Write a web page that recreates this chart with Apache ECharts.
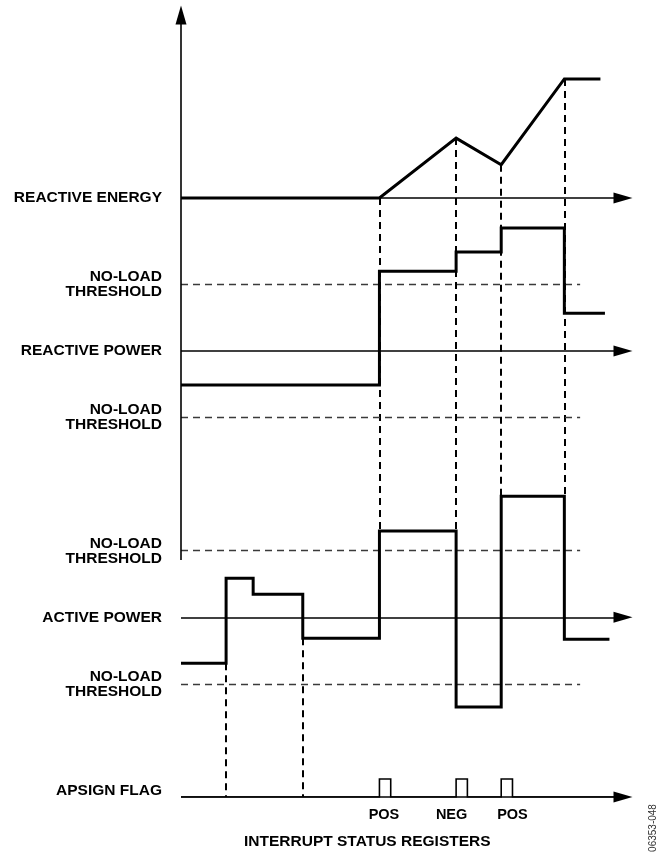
<!DOCTYPE html>
<html>
<head>
<meta charset="utf-8">
<title>Reactive energy, reactive power, active power and APSIGN flag</title>
<script src="https://cdn.jsdelivr.net/npm/echarts@6/dist/echarts.min.js"></script>
<style>
  html, body { margin: 0; padding: 0; background: #fff; }
  #chart { width: 662px; height: 853px; }
</style>
</head>
<body>
<div id="chart"></div>
<script>
// time runs 0..100 (arbitrary units), levels in multiples of the no-load threshold
const energyT = [0, 44, 61, 71, 85, 93];
const energyV = [0, 0, 0.9, 0.5, 1.79, 1.79];

const reactiveT = [0, 44, 61, 71, 85, 94];
const reactiveV = [-0.51, 1.2, 1.49, 1.85, 0.57, 0.57];

const activeT = [0, 10, 16, 27, 44, 61, 71, 85, 95];
const activeV = [-0.69, 0.585, 0.345, -0.315, 1.295, -1.346, 1.82, -0.33, -0.33];

const pulseT = [44, 61, 71];
const pulseWidth = 2.5;
const pulseHeight = 0.27;

const flagNames = ['POS', 'NEG', 'POS'];
const flagT = [45, 60, 73.5];
const flagLabelDrop = 0.27;

// where each trace sits on the shared level axis
const baseEnergy = 9.0;
const baseReactive = 6.7;
const baseActive = 2.7;
const baseFlag = 0;
const noLoad = 1;
const noLoadEnd = 88.5;
const axisEnd = 98;
const vAxisFrom = 3.56;
const vAxisTo = 11.75;

const upperGuideT = [44, 61, 71, 85];   // energy curve down to active power
const lowerGuideT = [10, 27];           // active power down to APSIGN flag

const sideLabels = ['REACTIVE ENERGY', 'NO-LOAD\nTHRESHOLD', 'REACTIVE POWER', 'NO-LOAD\nTHRESHOLD',
    'NO-LOAD\nTHRESHOLD', 'ACTIVE POWER', 'NO-LOAD\nTHRESHOLD', 'APSIGN FLAG'];
const sideLevels = [baseEnergy, baseReactive + noLoad, baseReactive, baseReactive - noLoad,
    baseActive + noLoad, baseActive, baseActive - noLoad, baseFlag];

const FONT = '"Liberation Sans", Arial, Helvetica, sans-serif';

function pairs(ts, vs, base) {
    return ts.map((t, i) => [t, vs[i] + base]);
}

// level of a step trace just before / after instant t
function stepEdge(ts, vs, t, pick) {
    const i = ts.indexOf(t);
    return pick(vs[i - 1], vs[i]);
}

const guideLines = [];
upperGuideT.forEach(t => {
    guideLines.push({ coords: [
        [t, baseEnergy + energyV[energyT.indexOf(t)]],
        [t, baseActive + stepEdge(activeT, activeV, t, Math.max)]
    ] });
});
lowerGuideT.forEach(t => {
    guideLines.push({ coords: [
        [t, baseActive + stepEdge(activeT, activeV, t, Math.min)],
        [t, baseFlag]
    ] });
});

const thresholdLines = [baseReactive + noLoad, baseReactive - noLoad, baseActive + noLoad, baseActive - noLoad]
    .map(y => ({ coords: [[0, y], [noLoadEnd, y]] }));

const flagData = [[0, baseFlag]];
pulseT.forEach(t => {
    flagData.push([t, baseFlag], [t, baseFlag + pulseHeight],
        [t + pulseWidth, baseFlag + pulseHeight], [t + pulseWidth, baseFlag]);
});
flagData.push([axisEnd, baseFlag]);

function hAxis(y) {
    return [{ coord: [0, y] }, { coord: [axisEnd, y], symbolSize: [11, 19] }];
}

const chart = echarts.init(document.getElementById('chart'));

chart.setOption({
    animation: false,
    backgroundColor: '#fff',
    title: {
        text: 'INTERRUPT STATUS REGISTERS',
        left: 244,
        top: 834,
        padding: 0,
        textStyle: { fontFamily: FONT, fontSize: 15.5, fontWeight: 'bold', color: '#000' }
    },
    grid: { left: 181, right: 30, top: 5, bottom: 56, outerBoundsMode: 'none' },
    xAxis: { type: 'value', min: 0, max: 100, show: false },
    yAxis: {
        type: 'value',
        min: 0,
        max: 11.9,
        axisLine: { show: false },
        axisTick: { show: false },
        splitLine: { show: false },
        axisLabel: {
            customValues: sideLevels,
            margin: 19,
            fontFamily: FONT,
            fontSize: 15.5,
            fontWeight: 'bold',
            color: '#000',
            lineHeight: 15,
            formatter: v => {
                const i = sideLevels.findIndex(l => Math.abs(l - v) < 1e-6);
                if (i < 0) return '';
                return sideLevels[i] === baseFlag ? '{up|' + sideLabels[i] + '}' : sideLabels[i];
            },
            rich: {
                up: { fontFamily: FONT, fontSize: 15.5, fontWeight: 'bold', color: '#000', padding: [0, 0, 12, 0] }
            }
        }
    },
    graphic: [{
        type: 'text',
        x: 653,
        y: 828,
        rotation: Math.PI / 2,
        style: {
            text: '06353-048',
            fontFamily: FONT,
            fontSize: 10,
            fill: '#333',
            textAlign: 'center',
            textVerticalAlign: 'middle',
            align: 'center',
            verticalAlign: 'middle'
        }
    }],
    series: [
        {
            type: 'lines',
            coordinateSystem: 'cartesian2d',
            silent: true,
            z: 1,
            lineStyle: { color: '#000', width: 2, type: [7, 5], opacity: 1 },
            data: guideLines
        },
        {
            type: 'lines',
            coordinateSystem: 'cartesian2d',
            silent: true,
            z: 1,
            lineStyle: { color: '#3a3a3a', width: 1.3, type: [7, 5], opacity: 1 },
            data: thresholdLines
        },
        {
            // axis arrows
            type: 'line',
            data: [],
            silent: true,
            z: 2,
            markLine: {
                silent: true,
                symbol: ['none', 'triangle'],
                symbolSize: [0, 15],
                label: { show: false },
                lineStyle: { color: '#000', width: 1.6, type: 'solid' },
                emphasis: { disabled: true },
                data: [
                    hAxis(baseEnergy),
                    hAxis(baseReactive),
                    hAxis(baseActive),
                    hAxis(baseFlag),
                    [{ coord: [0, vAxisFrom] }, { coord: [0, vAxisTo], symbolSize: [11, 19] }]
                ]
            }
        },
        {
            type: 'line',
            silent: true,
            z: 3,
            symbol: 'none',
            lineStyle: { color: '#000', width: 3, join: 'miter' },
            data: pairs(energyT, energyV, baseEnergy)
        },
        {
            type: 'line',
            silent: true,
            z: 3,
            step: 'end',
            symbol: 'none',
            lineStyle: { color: '#000', width: 3, join: 'miter' },
            data: pairs(reactiveT, reactiveV, baseReactive)
        },
        {
            type: 'line',
            silent: true,
            z: 3,
            step: 'end',
            symbol: 'none',
            lineStyle: { color: '#000', width: 3, join: 'miter' },
            data: pairs(activeT, activeV, baseActive)
        },
        {
            type: 'line',
            silent: true,
            z: 3,
            symbol: 'none',
            lineStyle: { color: '#000', width: 1.6, join: 'miter' },
            data: flagData
        },
        {
            type: 'scatter',
            silent: true,
            clip: false,
            symbol: 'circle',
            symbolSize: 1,
            itemStyle: { color: '#fff' },
            label: {
                show: true,
                position: 'inside',
                formatter: p => flagNames[p.dataIndex],
                fontFamily: FONT,
                fontSize: 14.5,
                fontWeight: 'bold',
                color: '#000',
                textBorderWidth: 0,
                opacity: 1
            },
            data: flagT.map(t => [t, baseFlag - flagLabelDrop])
        }
    ]
});
</script>
</body>
</html>
